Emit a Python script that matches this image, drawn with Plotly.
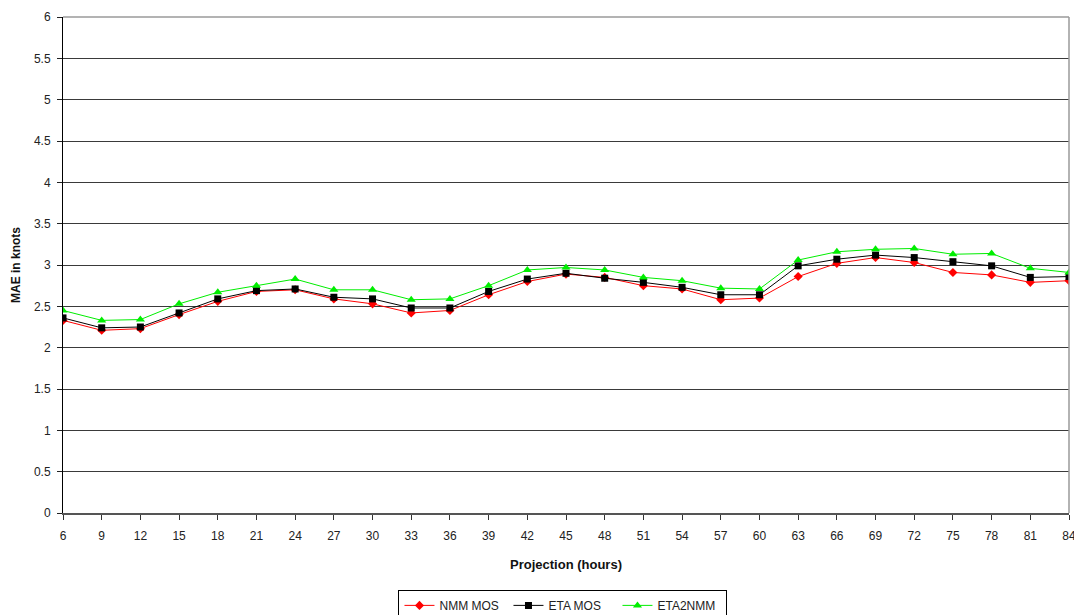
import plotly.graph_objects as go

hours = list(range(6, 85, 3))
nmm_mos = [2.33, 2.21, 2.23, 2.40, 2.56, 2.68, 2.70, 2.59, 2.53, 2.42, 2.45, 2.64, 2.80,
           2.89, 2.85, 2.75, 2.71, 2.58, 2.60, 2.86, 3.02, 3.09, 3.03, 2.91, 2.88, 2.79, 2.81]
eta_mos = [2.36, 2.24, 2.25, 2.42, 2.59, 2.69, 2.71, 2.61, 2.59, 2.48, 2.48, 2.68, 2.83,
           2.90, 2.84, 2.79, 2.73, 2.64, 2.64, 2.99, 3.07, 3.12, 3.09, 3.04, 2.99, 2.85, 2.86]
eta2nmm = [2.45, 2.33, 2.34, 2.53, 2.67, 2.75, 2.83, 2.70, 2.70, 2.58, 2.59, 2.75, 2.94,
           2.97, 2.94, 2.85, 2.81, 2.72, 2.71, 3.06, 3.16, 3.19, 3.20, 3.13, 3.14, 2.96, 2.91]
y_ticks = [0, 0.5, 1, 1.5, 2, 2.5, 3, 3.5, 4, 4.5, 5, 5.5, 6]

fig = go.Figure()
fig.add_trace(go.Scatter(x=hours, y=nmm_mos, name="NMM MOS", mode="lines+markers",
                         line=dict(color="#ff0000", width=1),
                         marker=dict(symbol="diamond", size=7, color="#ff0000")))
fig.add_trace(go.Scatter(x=hours, y=eta_mos, name="ETA MOS", mode="lines+markers",
                         line=dict(color="#000000", width=1),
                         marker=dict(symbol="square", size=7, color="#000000")))
fig.add_trace(go.Scatter(x=hours, y=eta2nmm, name="ETA2NMM", mode="lines+markers",
                         line=dict(color="#00ee00", width=1),
                         marker=dict(symbol="triangle-up", size=8, color="#00ee00")))

font = "Liberation Sans, Arial, sans-serif"
# page body has an 8px default margin, so the figure is sized/offset to compensate
fig.update_layout(
    width=1074, height=607,
    margin=dict(l=55, r=13, t=9, b=102, autoexpand=False),
    paper_bgcolor="white", plot_bgcolor="white",
    font=dict(family=font, size=12, color="#222222"),
    showlegend=True,
    legend=dict(orientation="h", x=0.497, xanchor="center", y=-0.155, yanchor="top",
                bordercolor="#000000", borderwidth=1, font=dict(size=12, color="#222222"),
                itemwidth=30, entrywidth=64, tracegroupgap=0),
    xaxis=dict(range=[6, 84], tickvals=hours, ticktext=[str(h) for h in hours],
               automargin=False,
               showgrid=False, zeroline=False, showline=True, linecolor="#555555", linewidth=2,
               ticks="outside", ticklen=5, tickcolor="#333333", ticklabelstandoff=6,
               title=dict(text="<b>Projection (hours)</b>", standoff=17,
                          font=dict(size=13, color="#111111"))),
    yaxis=dict(range=[0, 6], tickvals=y_ticks, ticktext=[f"{v:g}" for v in y_ticks],
               automargin=False,
               showgrid=True, gridcolor="#3a3a3a", gridwidth=1, zeroline=False,
               showline=True, linecolor="#000000", linewidth=1,
               ticks="outside", ticklen=5, tickcolor="#222222", ticklabelstandoff=4,
               title=dict(text="<b>MAE in knots</b>", standoff=10,
                          font=dict(size=12, color="#111111"))),
    shapes=[
        dict(type="line", xref="paper", yref="paper", x0=0, x1=1, y0=1, y1=1,
             line=dict(color="#9a9a9a", width=1.5), layer="above"),
        dict(type="line", xref="paper", yref="paper", x0=1, x1=1, y0=0, y1=1,
             line=dict(color="#9a9a9a", width=1.5), layer="above"),
    ],
)
fig.write_html("out.html")
